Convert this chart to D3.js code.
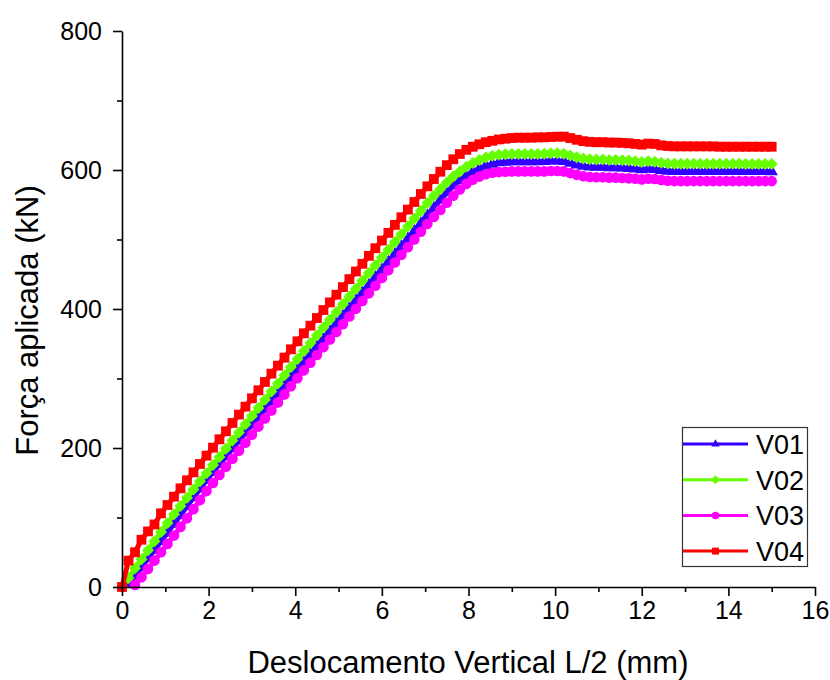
<!DOCTYPE html>
<html>
<head>
<meta charset="utf-8">
<script src="https://cdn.jsdelivr.net/npm/d3@7"></script>
<style>
  body { margin: 0; background: #fff; }
  svg { display: block; }
  text { font-family: "Liberation Sans", Arial, sans-serif; fill: #000; }
</style>
</head>
<body>
<svg id="chart" width="830" height="680"></svg>
<script>
// Vertical displacement at mid-span L/2 (mm)
const displacement = [
  0, 0.15, 0.3, 0.45, 0.6, 0.75, 0.9, 1.05, 1.2, 1.35,
  1.5, 1.65, 1.8, 1.95, 2.1, 2.25, 2.4, 2.55, 2.7, 2.85,
  3, 3.15, 3.3, 3.45, 3.6, 3.75, 3.9, 4.05, 4.2, 4.35,
  4.5, 4.65, 4.8, 4.95, 5.1, 5.25, 5.4, 5.55, 5.7, 5.85,
  6, 6.15, 6.3, 6.45, 6.6, 6.75, 6.9, 7.05, 7.2, 7.35,
  7.5, 7.65, 7.8, 7.95, 8.1, 8.25, 8.4, 8.55, 8.7, 8.85,
  9, 9.15, 9.3, 9.45, 9.6, 9.75, 9.9, 10.05, 10.2, 10.35,
  10.5, 10.65, 10.8, 10.95, 11.1, 11.25, 11.4, 11.55, 11.7, 11.85,
  12, 12.15, 12.3, 12.45, 12.6, 12.75, 12.9, 13.05, 13.2, 13.35,
  13.5, 13.65, 13.8, 13.95, 14.1, 14.25, 14.4, 14.55, 14.7, 14.85,
  15
];

// Applied force (kN) per beam
const forceV01 = [
  null, 4, 16, 28, 41, 53, 65.5, 78, 90.5, 103,
  116, 128.5, 141, 153.7, 165, 176.3, 187.7, 199, 210.3, 221.7,
  233.1, 244.4, 255.8, 267.1, 278.5, 289.8, 301.1, 312.5, 323.7, 334.8,
  345.9, 357, 368.1, 379.2, 390.3, 401.4, 412.5, 423.6, 434.7, 445.8,
  456.9, 468, 479.1, 490.2, 501.3, 512.4, 523.5, 534.6, 545.5, 557,
  567.5, 577, 585, 592, 597.5, 602, 606, 608.5, 610.5, 611.5,
  612, 612, 612, 612, 612, 612.5, 613, 613, 612.5, 610,
  607.5, 605.5, 604.5, 604, 604, 603.5, 603.5, 603, 602.5, 601.5,
  600.5, 601.5, 601, 599.5, 598.5, 598, 598, 598, 598, 598,
  598, 598, 598, 598, 598, 598, 598, 598, 598, 598,
  597.5
];

const forceV02 = [
  0, 13, 27, 40, 53, 66, 79, 92, 104.5, 116.5,
  128.5, 140.2, 152, 163.7, 175.4, 187.2, 199, 210.7, 222.4, 234.2,
  245.9, 257.7, 269.4, 281.2, 292.9, 304.7, 316.4, 328.2, 339.7, 350.9,
  362.1, 373.3, 384.5, 395.7, 406.9, 418.1, 429.3, 440.5, 451.7, 462.9,
  474.1, 485.3, 496.5, 507.7, 518.9, 530.1, 541.3, 552.5, 563, 572.5,
  582, 590.5, 598, 604.5, 610, 614.5, 618, 620.5, 622, 622.5,
  623, 623, 623, 623, 623, 623.5, 624, 624, 623.5, 621,
  618.5, 616.5, 615.5, 615, 615, 614.5, 614.5, 614, 613.5, 612.5,
  611.5, 612.5, 612, 610.5, 609.5, 609, 609, 609, 609, 609,
  609, 609, 609, 609, 609, 609, 608.5, 608.5, 608.5, 608.5,
  608.5
];

const forceV03 = [
  null, null, 3, 14, 26, 38, 50, 62, 74, 86.5,
  99, 112, 125, 138, 149.7, 161.3, 172.9, 184.5, 196, 207.6,
  219.2, 230.8, 242.4, 254, 265.5, 277.1, 288.8, 300.4, 311.7, 322.7,
  333.8, 344.9, 356, 367, 378.1, 389.2, 400.3, 411.4, 422.5, 433.5,
  444.6, 455.7, 466.8, 477.9, 489, 500, 511.1, 522.2, 532.5, 542.5,
  553, 563, 572, 580, 586, 590.5, 594, 596, 597, 597.5,
  598, 598, 598, 598, 598, 598, 598.5, 598.5, 598, 595.5,
  593, 591, 590, 589.5, 589.5, 589, 589, 588.5, 588, 587.5,
  586.5, 587.5, 587, 585.5, 584.5, 584, 584, 584, 584, 584,
  584, 584, 584, 584, 584, 584, 584, 584, 584, 584,
  584
];

const forceV04 = [
  0, 38, 50, 68, 80, 90, 106, 118, 130, 142,
  153.5, 165, 177, 189, 200.5, 212.5, 224, 236, 248, 259.5,
  271.5, 283, 295, 307, 318.5, 330, 342, 353.5, 365, 376,
  387, 398.5, 409.5, 420.5, 431.5, 443, 454, 465, 476.5, 487.5,
  498.5, 509.5, 521, 532, 543, 554, 565.5, 576.5, 587, 597.5,
  607, 615.5, 623, 629, 633.5, 637, 640, 642, 644, 645,
  646, 646.5, 646.5, 646.5, 647, 647, 647.5, 648, 648, 646,
  643.5, 641.5, 640.5, 640, 640, 639.5, 639.5, 639, 638.5, 637.5,
  636.5, 638, 637.5, 635.5, 634.5, 634, 634, 634, 634, 634,
  634, 634, 633.5, 633.5, 633.5, 633.5, 633.5, 633.5, 633.5, 633.5,
  633.5
];

const seriesNames = ["V01", "V02", "V03", "V04"];
const xTicks = [0, 2, 4, 6, 8, 10, 12, 14, 16];
const xMinorTicks = [1, 3, 5, 7, 9, 11, 13, 15];
const yTicks = [0, 200, 400, 600, 800];
const yMinorTicks = [100, 300, 500, 700];

const forces = [forceV01, forceV02, forceV03, forceV04];
const colors = ["#3300ff", "#66ff00", "#ff00ff", "#ff0000"];

// Marker shapes: triangle, diamond, circle, square (curve size / legend size)
const markers = [
  { type: d3.symbolTriangle, size: 68, legendSize: 30, rotate: 0 },
  { type: d3.symbolSquare, size: 72, legendSize: 40, rotate: 45 },
  { type: d3.symbolCircle, size: 88, legendSize: 44, rotate: 0 },
  { type: d3.symbolSquare, size: 96, legendSize: 48, rotate: 0 }
];

const svg = d3.select("#chart");

const x = d3.scaleLinear().domain([0, 16]).range([122, 815]);
const y = d3.scaleLinear().domain([0, 800]).range([587, 31]);

// Curves (drawn V01 first, V04 last)
const line = d3.line()
  .defined(d => d.f != null)
  .x(d => x(d.d))
  .y(d => y(d.f));

forces.forEach((arr, i) => {
  const pts = displacement.map((d, k) => ({ d, f: arr[k] }));
  const g = svg.append("g").attr("class", "series-" + seriesNames[i]);
  g.append("path")
    .datum(pts)
    .attr("fill", "none")
    .attr("stroke", colors[i])
    .attr("stroke-width", 5)
    .attr("stroke-linejoin", "round")
    .attr("d", line);
  const sym = d3.symbol().type(markers[i].type).size(markers[i].size);
  g.selectAll("path.mk")
    .data(pts.filter(p => p.f != null))
    .join("path")
    .attr("class", "mk")
    .attr("fill", colors[i])
    .attr("transform", p => `translate(${x(p.d)},${y(p.f)}) rotate(${markers[i].rotate})`)
    .attr("d", sym);
});

// Axes
const styleAxis = g => {
  g.selectAll("path.domain").attr("stroke", "#000").attr("stroke-width", 1.6);
  g.selectAll(".tick line").attr("stroke", "#000").attr("stroke-width", 1.6);
  g.selectAll(".tick text").attr("font-size", 25).attr("font-family", '"Liberation Sans", Arial, sans-serif');
};

const xAxis = svg.append("g")
  .attr("transform", `translate(0,${y(0)})`)
  .call(d3.axisBottom(x).tickValues(xTicks).tickSize(9).tickSizeOuter(0).tickPadding(5).tickFormat(d3.format("d")));
styleAxis(xAxis);

const xMinor = svg.append("g")
  .attr("transform", `translate(0,${y(0)})`)
  .call(d3.axisBottom(x).tickValues(xMinorTicks).tickSize(5).tickFormat(""));
xMinor.select("path.domain").remove();
styleAxis(xMinor);

const yAxis = svg.append("g")
  .attr("transform", `translate(${x(0)},0)`)
  .call(d3.axisLeft(y).tickValues(yTicks).tickSize(9).tickSizeOuter(0).tickPadding(11).tickFormat(d3.format("d")));
styleAxis(yAxis);

const yMinor = svg.append("g")
  .attr("transform", `translate(${x(0)},0)`)
  .call(d3.axisLeft(y).tickValues(yMinorTicks).tickSize(5).tickFormat(""));
yMinor.select("path.domain").remove();
styleAxis(yMinor);

// Axis titles
svg.append("text")
  .attr("x", 468)
  .attr("y", 673)
  .attr("text-anchor", "middle")
  .attr("font-size", 31)
  .text("Deslocamento Vertical L/2 (mm)");

svg.append("text")
  .attr("transform", "translate(38,320.5) rotate(-90)")
  .attr("text-anchor", "middle")
  .attr("font-size", 31)
  .text("Força aplicada (kN)");

// Legend
const legend = svg.append("g").attr("class", "legend");
legend.append("rect")
  .attr("x", 682.5).attr("y", 427.5)
  .attr("width", 125).attr("height", 139)
  .attr("fill", "#fff")
  .attr("stroke", "#333")
  .attr("stroke-width", 1.2);

seriesNames.forEach((name, i) => {
  const ly = 444 + i * 35.7;
  legend.append("line")
    .attr("x1", 683).attr("x2", 748)
    .attr("y1", ly).attr("y2", ly)
    .attr("stroke", colors[i]).attr("stroke-width", 3);
  legend.append("path")
    .attr("fill", colors[i])
    .attr("transform", `translate(715.5,${ly}) rotate(${markers[i].rotate})`)
    .attr("d", d3.symbol().type(markers[i].type).size(markers[i].legendSize)());
  legend.append("text")
    .attr("x", 756)
    .attr("y", ly + 10)
    .attr("font-size", 27)
    .text(name);
});
</script>
</body>
</html>
